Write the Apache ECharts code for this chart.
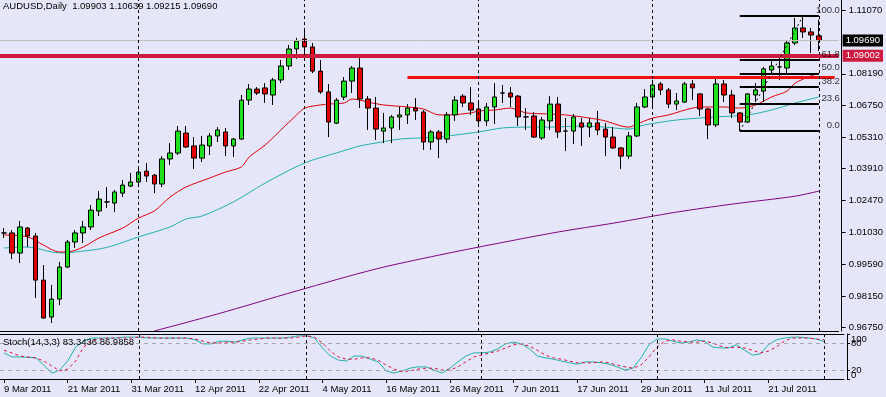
<!DOCTYPE html>
<html><head><meta charset="utf-8">
<script src="https://cdn.jsdelivr.net/npm/echarts/dist/echarts.min.js"></script>
<style>html,body{margin:0;padding:0;background:#E6E6FA;}#c{width:886px;height:397px;}</style>
</head><body><div id="c"></div>
<script>
const symbolName = 'AUDUSD,Daily';
const dates = ['9 Mar 2011','10 Mar 2011','11 Mar 2011','14 Mar 2011','15 Mar 2011','16 Mar 2011','17 Mar 2011','18 Mar 2011','21 Mar 2011','22 Mar 2011','23 Mar 2011','24 Mar 2011','25 Mar 2011','28 Mar 2011','29 Mar 2011','30 Mar 2011','31 Mar 2011','1 Apr 2011','4 Apr 2011','5 Apr 2011','6 Apr 2011','7 Apr 2011','8 Apr 2011','11 Apr 2011','12 Apr 2011','13 Apr 2011','14 Apr 2011','15 Apr 2011','18 Apr 2011','19 Apr 2011','20 Apr 2011','21 Apr 2011','22 Apr 2011','25 Apr 2011','26 Apr 2011','27 Apr 2011','28 Apr 2011','29 Apr 2011','2 May 2011','3 May 2011','4 May 2011','5 May 2011','6 May 2011','9 May 2011','10 May 2011','11 May 2011','12 May 2011','13 May 2011','16 May 2011','17 May 2011','18 May 2011','19 May 2011','20 May 2011','23 May 2011','24 May 2011','25 May 2011','26 May 2011','27 May 2011','30 May 2011','31 May 2011','1 Jun 2011','2 Jun 2011','3 Jun 2011','6 Jun 2011','7 Jun 2011','8 Jun 2011','9 Jun 2011','10 Jun 2011','13 Jun 2011','14 Jun 2011','15 Jun 2011','16 Jun 2011','17 Jun 2011','20 Jun 2011','21 Jun 2011','22 Jun 2011','23 Jun 2011','24 Jun 2011','27 Jun 2011','28 Jun 2011','29 Jun 2011','30 Jun 2011','1 Jul 2011','4 Jul 2011','5 Jul 2011','6 Jul 2011','7 Jul 2011','8 Jul 2011','11 Jul 2011','12 Jul 2011','13 Jul 2011','14 Jul 2011','15 Jul 2011','18 Jul 2011','19 Jul 2011','20 Jul 2011','21 Jul 2011','22 Jul 2011','25 Jul 2011','26 Jul 2011','27 Jul 2011','28 Jul 2011','29 Jul 2011','1 Aug 2011'];

const opens = [1.0100,1.0100,1.0009,1.0122,1.0086,0.9887,0.9720,0.9801,0.9946,1.0059,1.0100,1.0127,1.0199,1.0240,1.0235,1.0280,1.0312,1.0330,1.0379,1.0361,1.0321,1.0434,1.0461,1.0551,1.0493,1.0438,1.0493,1.0538,1.0556,1.0493,1.0524,1.0700,1.0750,1.0755,1.0723,1.0791,1.0854,1.0931,1.0976,1.0940,1.0831,1.0737,1.0596,1.0714,1.0786,1.0845,1.0705,1.0664,1.0560,1.0574,1.0624,1.0633,1.0664,1.0646,1.0511,1.0556,1.0524,1.0633,1.0718,1.0687,1.0660,1.0606,1.0669,1.0732,1.0732,1.0718,1.0624,1.0628,1.0529,1.0606,1.0682,1.0560,1.0560,1.0597,1.0578,1.0597,1.0569,1.0533,1.0484,1.0447,1.0538,1.0669,1.0714,1.0773,1.0746,1.0682,1.0691,1.0773,1.0728,1.0660,1.0588,1.0773,1.0723,1.0642,1.0601,1.0723,1.0741,1.0836,1.0850,1.0845,1.0958,1.1026,1.1008,1.09903];
const closes = [1.0100,1.0009,1.0127,1.0086,0.9887,0.9716,0.9801,0.9946,1.0059,1.0100,1.0127,1.0203,1.0253,1.0240,1.0285,1.0316,1.0330,1.0375,1.0357,1.0321,1.0434,1.0461,1.0560,1.0488,1.0438,1.0497,1.0538,1.0565,1.0493,1.0524,1.0700,1.0750,1.0732,1.0728,1.0791,1.0854,1.0931,1.0967,1.0940,1.0831,1.0737,1.0601,1.0700,1.0786,1.0845,1.0705,1.0664,1.0569,1.0574,1.0624,1.0633,1.0664,1.0651,1.0511,1.0556,1.0524,1.0633,1.0700,1.0687,1.0655,1.0606,1.0669,1.0714,1.0732,1.0714,1.0624,1.0624,1.0533,1.0610,1.0682,1.0556,1.0560,1.0624,1.0578,1.0597,1.0565,1.0533,1.0484,1.0447,1.0538,1.0669,1.0714,1.0768,1.0746,1.0682,1.0696,1.0773,1.0755,1.0660,1.0588,1.0773,1.0723,1.0642,1.0601,1.0728,1.0746,1.0841,1.0854,1.0850,1.0958,1.1026,1.1008,1.0994,1.09690];
const lows = [1.0077,0.9982,0.9964,1.0036,0.9806,0.9712,0.9693,0.9774,0.9941,1.0032,1.0054,1.0113,1.0176,1.0212,1.0194,1.0262,1.0307,1.0307,1.0330,1.0280,1.0307,1.0407,1.0452,1.0484,1.0389,1.0420,1.0452,1.0511,1.0447,1.0443,1.0520,1.0678,1.0723,1.0687,1.0678,1.0777,1.0836,1.0886,1.0917,1.0822,1.0728,1.0533,1.0592,1.0700,1.0732,1.0664,1.0565,1.0520,1.0506,1.0506,1.0565,1.0592,1.0610,1.0475,1.0475,1.0438,1.0506,1.0606,1.0669,1.0633,1.0578,1.0583,1.0592,1.0687,1.0669,1.0583,1.0565,1.0529,1.0520,1.0565,1.0529,1.0470,1.0502,1.0493,1.0533,1.0542,1.0447,1.0479,1.0389,1.0434,1.0533,1.0664,1.0664,1.0723,1.0664,1.0655,1.0687,1.0700,1.0628,1.0524,1.0578,1.0691,1.0619,1.0562,1.0597,1.0691,1.0691,1.0822,1.0791,1.0822,1.0949,1.0981,1.0913,1.09215];
const highs = [1.0122,1.0113,1.0154,1.0127,1.0100,0.9955,0.9865,0.9969,1.0068,1.0113,1.0154,1.0226,1.0289,1.0307,1.0294,1.0339,1.0371,1.0402,1.0416,1.0366,1.0447,1.0506,1.0583,1.0583,1.0533,1.0538,1.0551,1.0578,1.0574,1.0529,1.0723,1.0773,1.0759,1.0777,1.0800,1.0881,1.0949,1.0981,1.1026,1.0958,1.0881,1.0773,1.0709,1.0804,1.0854,1.0890,1.0718,1.0714,1.0642,1.0633,1.0669,1.0682,1.0709,1.0655,1.0565,1.0565,1.0646,1.0718,1.0727,1.0759,1.0691,1.0687,1.0777,1.0768,1.0759,1.0723,1.0664,1.0646,1.0624,1.0718,1.0714,1.0619,1.0637,1.0619,1.0619,1.0651,1.0597,1.0578,1.0488,1.0556,1.0687,1.0750,1.0791,1.0782,1.0755,1.0732,1.0782,1.0791,1.0732,1.0664,1.0800,1.0791,1.0746,1.0646,1.0732,1.0777,1.0850,1.0881,1.0890,1.0971,1.1071,1.1080,1.1026,1.10639];

// moving averages: [bar index, price]
const maRed = [[0,1.0091],[3,1.0082],[5,1.0045],[7,1.0014],[8,1.0014],[10,1.0036],[12,1.0077],[15,1.0122],[17,1.0167],[19,1.0199],[21,1.0262],[23,1.0307],[26,1.0348],[28,1.0375],[30,1.0398],[31,1.0443],[33,1.0497],[35,1.0565],[37,1.0633],[38,1.0664],[40,1.0678],[41,1.0682],[43,1.0687],[44,1.0705],[45,1.0700],[46,1.0691],[48,1.0678],[51,1.0669],[53,1.0660],[55,1.0633],[56,1.0633],[59,1.0642],[60,1.0651],[62,1.0655],[64,1.0664],[65,1.0655],[66,1.0642],[69,1.0637],[71,1.0633],[74,1.0619],[76,1.0606],[78,1.0583],[79,1.0578],[80,1.0592],[82,1.0619],[84,1.0633],[87,1.0664],[89,1.0669],[91,1.0669],[93,1.0664],[95,1.0678],[97,1.0714],[99,1.0741],[100,1.0777],[102,1.0809],[103,1.0822]];
const maTeal = [[0,1.0032],[3,1.0036],[4,1.0032],[6,1.0014],[8,1.0009],[9,1.0014],[12,1.0027],[14,1.0045],[17,1.0082],[21,1.0127],[23,1.0163],[25,1.0176],[29,1.0240],[33,1.0325],[38,1.0416],[42,1.0461],[45,1.0493],[47,1.0506],[50,1.0524],[55,1.0533],[57,1.0542],[60,1.0556],[63,1.0574],[66,1.0578],[69,1.0578],[73,1.0583],[76,1.0578],[79,1.0569],[81,1.0588],[85,1.0610],[90,1.0624],[94,1.0633],[97,1.0655],[100,1.0687],[103,1.0714]];
const maPurple = [[19,0.9657],[27,0.9734],[37,0.9838],[47,0.9937],[55,1.0000],[62,1.0050],[70,1.0104],[77,1.0144],[85,1.0194],[92,1.0230],[100,1.0266],[103,1.0289]];

const stochK = [58,49,49,48,47,31,13,20,40,71,84,91,91,91,91,93,93,93,91,91,91,91,91,91,87,78,78,84,84,82,87,91,91,91,91,91,93,96,96,91,69,51,42,40,51,51,44,38,18,13,18,24,27,27,20,13,24,38,51,58,58,60,67,78,82,78,67,51,47,44,40,36,33,38,38,36,33,27,20,24,47,76,89,89,84,80,82,87,84,71,69,69,76,64,53,56,76,87,91,93,93,91,89,83.3436];
const stochD = [64,58,51,49,47,40,29,18,22,40,71,84,89,91,91,91,91,93,93,91,91,91,91,91,89,84,80,80,82,82,84,87,89,91,91,91,91,93,96,93,80,62,49,44,44,47,47,42,31,22,16,18,22,24,24,20,20,27,38,49,53,58,62,69,76,78,73,64,53,47,44,40,36,36,36,38,36,31,27,24,31,49,71,84,87,84,82,82,84,80,73,69,71,69,64,58,62,71,84,91,91,91,89,86.9858];

const priceTicks = [1.11070,1.08190,1.06750,1.05310,1.03910,1.02470,1.01030,0.99590,0.98150,0.96750];
const stochEdgeTicks = [100,0];
const stochLevels = [80,20];
const supportLine = 1.09002;
const resistLine = 1.0804, resistStart = '19 May 2011';
const bidPrice = 1.09690;
const fibLow = 1.0560, fibLowDate = '18 Jul 2011';
const fibHigh = 1.1080, fibHighDate = '28 Jul 2011';
const fibRatios = [0.0, 23.6, 38.2, 50.0, 61.8, 100.0];
const separators = ['1 Apr 2011','2 May 2011','1 Jun 2011','1 Jul 2011','1 Aug 2011'];

const Y_MIN = 0.96570, Y_MAX = 1.11522;
const N = dates.length;
const cats = dates.concat([' ', '  ']);
const FONT = '"Liberation Sans", Arial, sans-serif';
const candles = opens.map((o, i) => [o, closes[i], lows[i], highs[i]]);
const fibLevels = fibRatios.map(r => fibLow + (fibHigh - fibLow) * r / 100);

const sepLines = separators.map(d => ({xAxis: d}));
const chart = echarts.init(document.getElementById('c'));
chart.setOption({
  backgroundColor: '#E6E6FA',
  animation: false,
  textStyle: {fontFamily: FONT},
  title: [
    {text: symbolName + '  ' + [opens[N-1], highs[N-1], lows[N-1], closes[N-1]].map(v => v.toFixed(5)).join(' '),
     left: 3, top: 1, padding: 0, textStyle: {fontSize: 9.5, fontWeight: 'normal', color: '#000', fontFamily: FONT}},
    {text: 'Stoch(14,3,3) ' + stochK[N-1].toFixed(4) + ' ' + stochD[N-1].toFixed(4),
     left: 3, top: 337, padding: 0, textStyle: {fontSize: 9.5, fontWeight: 'normal', color: '#000', fontFamily: FONT}}
  ],
  grid: [
    {left: -4, top: 0, width: 848, height: 331},
    {left: -4, top: 334, width: 848, height: 45}
  ],
  xAxis: [
    {type: 'category', gridIndex: 0, data: cats, axisLine: {onZero: false, lineStyle: {color: '#000', width: 1}},
     axisTick: {show: false}, axisLabel: {show: false}, splitLine: {show: false}},
    {type: 'category', gridIndex: 1, data: cats, axisLine: {onZero: false, lineStyle: {color: '#000', width: 1}},
     axisTick: {show: true, interval: i => i % 8 === 0 && i < N, alignWithLabel: true, length: 4, lineStyle: {color: '#000'}},
     axisLabel: {interval: i => i % 8 === 0 && i < N, align: 'left', margin: 5, fontSize: 9.5, color: '#000', fontFamily: FONT},
     splitLine: {show: false}},
    {type: 'category', gridIndex: 1, data: cats, position: 'top', axisLine: {onZero: false, lineStyle: {color: '#000', width: 1}},
     axisTick: {show: false}, axisLabel: {show: false}}
  ],
  yAxis: [
    {type: 'value', gridIndex: 0, position: 'right', offset: 3, min: Y_MIN, max: Y_MAX,
     axisLine: {show: true, lineStyle: {color: '#000'}},
     axisTick: {show: true, customValues: priceTicks, length: 4, lineStyle: {color: '#000'}},
     axisLabel: {customValues: priceTicks, formatter: v => v.toFixed(5), margin: 7, fontSize: 9.5, color: '#000', fontFamily: FONT},
     splitLine: {show: false}},
    {type: 'value', gridIndex: 1, position: 'right', offset: 3, min: 0, max: 100,
     axisLine: {show: true, lineStyle: {color: '#000'}},
     axisTick: {show: true, customValues: stochEdgeTicks, length: 3, lineStyle: {color: '#000'}},
     axisLabel: {customValues: stochEdgeTicks, margin: 4, fontSize: 9.5, color: '#000', fontFamily: FONT,
       showMinLabel: true, showMaxLabel: true,
       formatter: v => v === 100 ? '{t|100}' : '{b|0}',
       rich: {t: {padding: [11, 0, 0, 0], fontSize: 9.5}, b: {padding: [0, 0, 8, 0], fontSize: 9.5}}},
     splitLine: {show: false}},
    {type: 'value', gridIndex: 1, position: 'right', offset: 3, min: 0, max: 100,
     axisLine: {show: false},
     axisTick: {show: true, customValues: stochLevels, length: 3, lineStyle: {color: '#000'}},
     axisLabel: {customValues: stochLevels, margin: 4, fontSize: 9.5, color: '#000', fontFamily: FONT,
       showMinLabel: true, showMaxLabel: true},
     splitLine: {show: false}}
  ],
  series: [
    {type: 'line', name: 'MA200', xAxisIndex: 0, yAxisIndex: 0, data: maPurple, showSymbol: false, smooth: 0.3,
     lineStyle: {color: '#800080', width: 1}, z: 2},
    {type: 'line', name: 'MA50', xAxisIndex: 0, yAxisIndex: 0, data: maTeal, showSymbol: false, smooth: 0.3,
     lineStyle: {color: '#20B2AA', width: 1}, z: 2},
    {type: 'line', name: 'MA20', xAxisIndex: 0, yAxisIndex: 0, data: maRed, showSymbol: false, smooth: 0.3,
     lineStyle: {color: '#E00000', width: 1}, z: 2},
    {type: 'candlestick', name: 'AUDUSD', xAxisIndex: 0, yAxisIndex: 0, data: candles, barWidth: 5, z: 3,
     itemStyle: {color: '#1EE01E', color0: '#E00000', borderColor: '#000', borderColor0: '#000', borderColorDoji: '#000', borderWidth: 1},
     markLine: {silent: true, symbol: ['none', 'none'], animation: false, precision: 5,
       data: [
         {yAxis: bidPrice, lineStyle: {color: '#BEBEBE', width: 1, type: 'solid'},
          label: {show: true, position: 'end', distance: 4, formatter: bidPrice.toFixed(5), color: '#fff', backgroundColor: '#000', padding: [1, 3, 1, 3], fontSize: 9.5, fontFamily: FONT}},
         {yAxis: supportLine, lineStyle: {color: '#CC1A40', width: 4, type: 'solid'},
          label: {show: true, position: 'end', distance: 4, formatter: supportLine.toFixed(5), color: '#fff', backgroundColor: '#CC1A40', padding: [1, 3, 1, 3], fontSize: 9.5, fontFamily: FONT}},
         [{coord: [resistStart, resistLine], lineStyle: {color: '#F01010', width: 3, type: 'solid'}, label: {show: false}},
          {coord: [cats[cats.length - 1], resistLine]}],
         ...fibLevels.map(lv => [{coord: [fibLowDate, lv], lineStyle: {color: '#000', width: 2, type: 'solid'}, label: {show: false}},
                                 {coord: [dates[N - 1], lv]}]),
         [{coord: [fibLowDate, fibLow], lineStyle: {color: '#000', width: 1, type: [2, 3]}, label: {show: false}},
          {coord: [fibHighDate, fibHigh]}],
         ...sepLines.map(s => Object.assign({}, s, {lineStyle: {color: '#000', width: 1, type: [3, 3]}, label: {show: false}}))
       ]}},
    {type: 'scatter', name: 'fib labels', xAxisIndex: 0, yAxisIndex: 0, symbolSize: 0, silent: true, z: 5,
     data: fibRatios.map((r, k) => ({value: [dates[N - 1], fibLevels[k]]})),
     label: {show: true, position: [21, -1], align: 'right', verticalAlign: 'bottom', color: '#000', fontSize: 9.5, fontFamily: FONT,
       formatter: p => fibRatios[p.dataIndex].toFixed(1)}},
    {type: 'line', name: 'Stoch main', xAxisIndex: 1, yAxisIndex: 1, data: stochK, showSymbol: false,
     lineStyle: {color: '#20B2AA', width: 1},
     markLine: {silent: true, symbol: ['none', 'none'], animation: false, label: {show: false},
       data: stochLevels.map(v => ({yAxis: v, lineStyle: {color: '#A8A8A8', width: 1, type: [4, 4]}}))
         .concat(sepLines.map(s => Object.assign({}, s, {lineStyle: {color: '#000', width: 1, type: [3, 3]}})))}},
    {type: 'line', name: 'Stoch signal', xAxisIndex: 1, yAxisIndex: 1, data: stochD, showSymbol: false,
     lineStyle: {color: '#E0103C', width: 1, type: [3, 3]}}
  ]
});
</script>
</body></html>
